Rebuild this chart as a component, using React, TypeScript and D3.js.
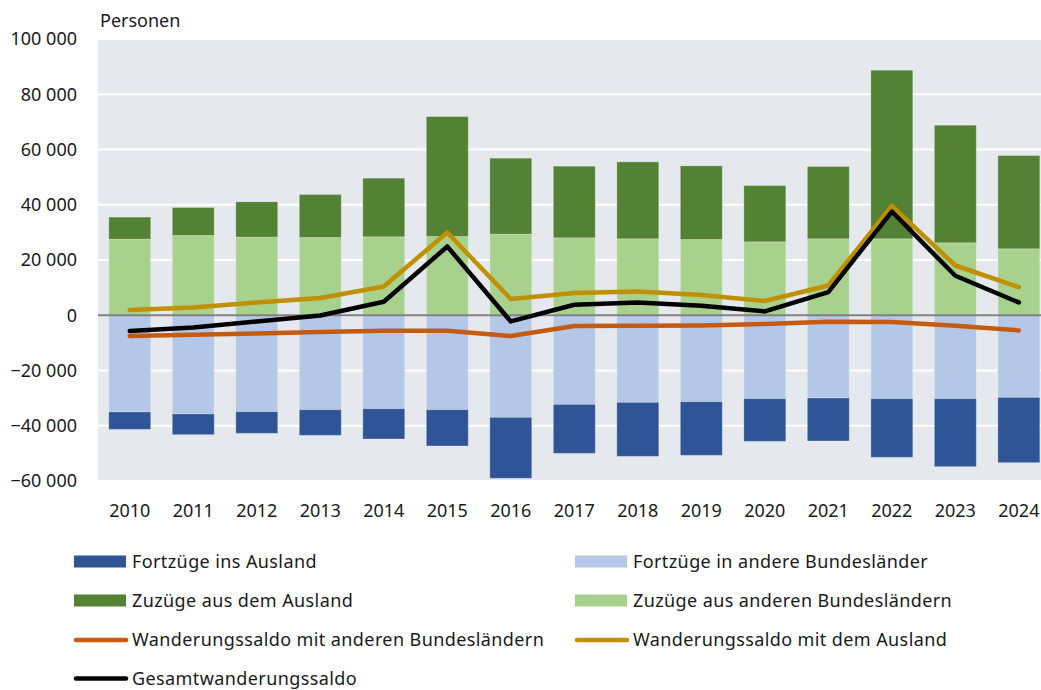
import React from "react";
import * as d3 from "d3";

const years = ["2010","2011","2012","2013","2014","2015","2016","2017","2018","2019","2020","2021","2022","2023","2024"];
const zuzuegeBL = [27560, 28870, 28280, 28150, 28390, 28500, 29370, 28030, 27670, 27430, 26580, 27670, 27670, 26220, 24050];
const zuzuegeAusland = [7960, 10130, 12770, 15550, 21230, 43420, 27490, 25930, 27850, 26640, 20370, 26160, 61020, 42570, 33750];
const fortzuegeBL = [35020, 35740, 34900, 34180, 33820, 34180, 36960, 32260, 31540, 31290, 30200, 29960, 30200, 30200, 29720];
const fortzuegeAusland = [6280, 7480, 7840, 9290, 10970, 13140, 22060, 17720, 19530, 19420, 15440, 15560, 21230, 24600, 23630];
const saldoBL = [-7520, -7050, -6570, -6090, -5610, -5610, -7520, -3910, -3800, -3680, -3200, -2350, -2470, -3800, -5490];
const saldoAusland = [1880, 2820, 4630, 6220, 10420, 29950, 5860, 8030, 8610, 7300, 5140, 10780, 39600, 18010, 10200];
const saldoGesamt = [-5710, -4410, -2240, -100, 4880, 24890, -2240, 3800, 4640, 3400, 1380, 8390, 37550, 14290, 4640];
const yTicks = [-60000, -40000, -20000, 0, 20000, 40000, 60000, 80000, 100000];

const C = {
  darkBlue: "#2f5597",
  lightBlue: "#b4c7e7",
  darkGreen: "#548235",
  lightGreen: "#a9d18e",
  orange: "#c55a11",
  gold: "#bf9000",
  black: "#000000",
  bg: "#e5e9ee",
};

const FONT = "'Noto Sans', sans-serif";

export default function App() {
  const left = 98, right = 1050.6, top = 39, bottom = 481;
  const x = d3.scaleBand<string>().domain(years).range([left, right]).paddingInner(0.34).paddingOuter(0.17);
  const y = d3.scaleLinear().domain([-60000, 100000]).range([bottom, top]);
  const fmt = (v: number) => d3.format(",")(v).replace(/,/g, " ");
  const bw = x.bandwidth();
  const cx = (i: number) => (x(years[i]) as number) + bw / 2;

  const line = d3.line<number>().x((_, i) => cx(i)).y((d) => y(d));

  const bars: React.ReactNode[] = [];
  years.forEach((yr, i) => {
    const x0 = x(yr) as number;
    const segs = [
      { y0: 0, y1: zuzuegeBL[i], c: C.lightGreen },
      { y0: zuzuegeBL[i], y1: zuzuegeBL[i] + zuzuegeAusland[i], c: C.darkGreen },
      { y0: 0, y1: -fortzuegeBL[i], c: C.lightBlue },
      { y0: -fortzuegeBL[i], y1: -fortzuegeBL[i] - fortzuegeAusland[i], c: C.darkBlue },
    ];
    segs.forEach((s, k) => {
      const ya = y(Math.max(s.y0, s.y1));
      const yb = y(Math.min(s.y0, s.y1));
      bars.push(
        <rect key={yr + k} x={x0} y={ya} width={bw} height={yb - ya} fill={s.c} stroke="#ffffff" strokeOpacity={0.25} strokeWidth={1} />
      );
    });
  });

  const legend = [
    { label: "Fortzüge ins Ausland", c: C.darkBlue, type: "rect", col: 0, row: 0 },
    { label: "Fortzüge in andere Bundesländer", c: C.lightBlue, type: "rect", col: 1, row: 0 },
    { label: "Zuzüge aus dem Ausland", c: C.darkGreen, type: "rect", col: 0, row: 1 },
    { label: "Zuzüge aus anderen Bundesländern", c: C.lightGreen, type: "rect", col: 1, row: 1 },
    { label: "Wanderungssaldo mit anderen Bundesländern", c: C.orange, type: "line", col: 0, row: 2 },
    { label: "Wanderungssaldo mit dem Ausland", c: C.gold, type: "line", col: 1, row: 2 },
    { label: "Gesamtwanderungssaldo", c: C.black, type: "line", col: 0, row: 3 },
  ];
  const colX = [74, 575];
  const rowY = [561.5, 600.5, 640, 678.5];

  return (
    <svg width={1041} height={690} style={{ position: "absolute", left: 0, top: 0, background: "#fff" }} fontFamily={FONT}>
      <rect x={left} y={top} width={right - left} height={bottom - top} fill={C.bg} />
      {yTicks.map((t) => (
        <line key={"g" + t} x1={left} x2={right} y1={y(t)} y2={y(t)} stroke="#ffffff" strokeWidth={2} />
      ))}
      {bars}
      <line x1={left} x2={right} y1={y(0)} y2={y(0)} stroke="#808080" strokeWidth={2} />
      <path d={line(saldoBL) || ""} fill="none" stroke={C.orange} strokeWidth={4.5} strokeLinejoin="round" strokeLinecap="round" />
      <path d={line(saldoAusland) || ""} fill="none" stroke={C.gold} strokeWidth={4.5} strokeLinejoin="round" strokeLinecap="round" />
      <path d={line(saldoGesamt) || ""} fill="none" stroke={C.black} strokeWidth={4.5} strokeLinejoin="round" strokeLinecap="round" />
      {yTicks.map((t) => (
        <text key={"t" + t} x={77} y={y(t)} dy="0.35em" textAnchor="end" fontSize={18} fill="#1a1a1a">
          {fmt(t)}
        </text>
      ))}
      <text x={100} y={27} fontSize={18} fill="#1a1a1a">Personen</text>
      {years.map((yr, i) => (
        <text key={"x" + yr} x={cx(i)} y={517} textAnchor="middle" fontSize={18} fill="#1a1a1a">
          {yr}
        </text>
      ))}
      {legend.map((l) => {
        const lx = colX[l.col];
        const ly = rowY[l.row];
        return (
          <g key={l.label}>
            {l.type === "rect" ? (
              <rect x={lx} y={ly - 6} width={52} height={12} fill={l.c} />
            ) : (
              <line x1={lx + 2} x2={lx + 52} y1={ly} y2={ly} stroke={l.c} strokeWidth={4.5} strokeLinecap="round" />
            )}
            <text x={lx + 58} y={ly} dy="0.35em" fontSize={18} letterSpacing={0.4} fill="#1a1a1a">
              {l.label}
            </text>
          </g>
        );
      })}
    </svg>
  );
}
